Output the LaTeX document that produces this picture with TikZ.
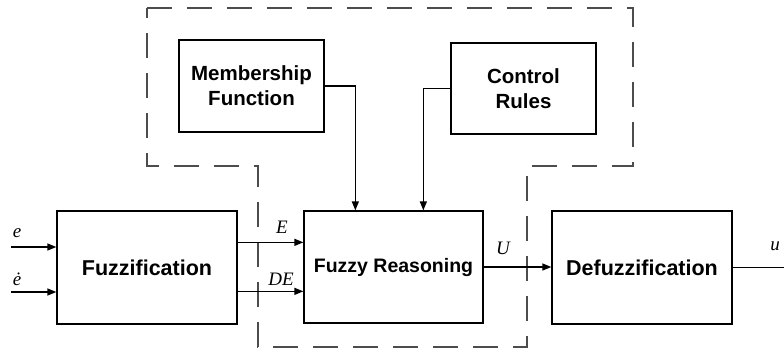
\documentclass[tikz,border=0pt]{standalone}
\usepackage{fontspec}
\setmainfont{Liberation Serif}
\newfontfamily\arial{Liberation Sans}
\usetikzlibrary{arrows.meta,calc}
\begin{document}
\begin{tikzpicture}[x=1pt,y=-1pt, line width=1.3pt,
 box/.style={draw, line width=1.3pt, inner sep=0pt, align=center},
 bigtxt/.style={font=\arial\bfseries\fontsize{21.5}{25}\selectfont},
 midtxt/.style={font=\arial\bfseries\fontsize{19.5}{25}\selectfont},
 smtxt/.style={font=\arial\bfseries\fontsize{20.5}{25}\selectfont},
 arr/.style={-{Triangle[length=9pt,width=7pt]}},
 lab/.style={font=\itshape\fontsize{19}{19}\selectfont, inner sep=0pt},
 region/.style={line width=1.3pt, draw=black!70, dash pattern=on 25pt off 15pt}]
\useasboundingbox (0,0) rectangle (784,351);
% dashed region
\draw[region] (147,8) -- (633,8) -- (633,166) -- (527,166) -- (527,347) -- (258,347) -- (258,166) -- (147,166) -- cycle;
% boxes
\node[box, bigtxt, minimum width=180pt, minimum height=113pt] (fz) at (147,267.5) {Fuzzification};
\node[box, midtxt, minimum width=179pt, minimum height=112pt] (fr) at (393.5,267) {Fuzzy Reasoning};
\node[box, bigtxt, minimum width=180pt, minimum height=113pt] (df) at (642,267.5) {Defuzzification};
\node[box, smtxt, minimum width=145pt, minimum height=92pt] (mf) at (251.5,86) {Membership\\Function};
\node[box, smtxt, minimum width=145pt, minimum height=91pt] (cr) at (523.5,88.5) {Control\\Rules};
% inputs
\coordinate (ein) at (11,247);
\coordinate (edin) at (11,292);
\draw[arr] (ein) -- (ein -| fz.west);
\draw[arr] (edin) -- (edin -| fz.west);
\node[lab] (le) at (17,233) {e};
\node[lab] (led) at (17,279) {ė};
% E, DE
\coordinate (eo) at ($(fz.north east)+(0,32)$);
\coordinate (deo) at ($(fz.north east)+(0,81)$);
\draw[arr] (eo) -- (eo -| fr.west);
\draw[arr] (deo) -- (deo -| fr.west);
\node[lab] (lE) at (282,227) {E};
\node[lab] (lDE) at (281,279) {DE};
% U
\draw[arr] (fr.east) -- (fr.east -| df.west);
\node[lab] (lU) at (503,248) {U};
% u
\coordinate (uo) at (784,267.5);
\draw (df.east) -- (uo);
\node[lab] (lu) at (775,246) {u};
% top connectors
\draw[arr] (mf.east) -| ($(fr.north west)+(52,0)$);
\draw[arr] (cr.west) -| ($(fr.north west)+(120,0)$);
\end{tikzpicture}
\end{document}
